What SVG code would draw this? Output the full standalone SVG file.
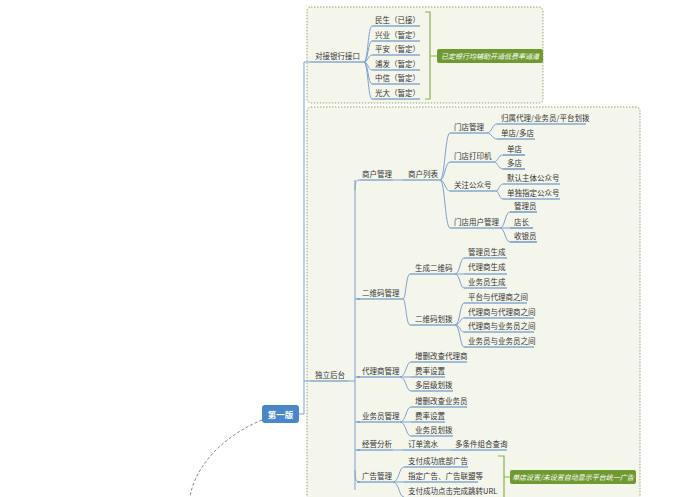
<svg xmlns="http://www.w3.org/2000/svg" width="700" height="497" viewBox="0 0 700 497">
<style>
text{font-family:"Noto Sans CJK SC","Liberation Sans",sans-serif;font-size:7.5px;fill:#333}
.u{stroke:#4f81bd;stroke-width:1.2}
.c{fill:none;stroke:#7f9fcf;stroke-width:1}
.box{fill:#f4f6ec;stroke:#9aa36a;stroke-dasharray:1.5 1.5}
.br{fill:none;stroke:#8ab04a;stroke-width:1.2}
.call{fill:#6f9a32}
.ct{fill:#fff;font-style:italic;font-size:7px}
</style>
<rect width="700" height="497" fill="#fff"/>
<rect class="box" x="307" y="7" width="236" height="96" rx="4"/>
<rect class="box" x="307" y="107" width="333" height="400" rx="4"/>
<g id="connectors">
<path class="c" d="M299 414 H304 V62 H310 M304 381 H310"/>
<path class="c" d="M364 62 C368 62 368 26 372 26 M364 62 C368 62 368 41 372 41 M364 62 C368 62 368 55 372 55 M364 62 C368 62 368 70 372 70 M364 62 C368 62 368 84 372 84 M364 62 C368 62 368 99 372 99"/>
<path class="br" d="M425 12 H430 V99 H425 M430 56 H437"/>
<path class="c" d="M348 381 H355 M355 180 V490 M355 190 C355 180 357 180 360 180 M355 299 H360 M355 377 H360 M355 422 H360 M355 450 H360 M355 470 C355 482 357 482 360 482"/>
<path class="c" d="M393 180 H403 M440 180 C445 180 445 133 450 133 M440 180 C445 180 445 162 450 162 M440 180 C445 180 445 191 450 191 M440 180 C445 180 445 228 450 228"/>
<path class="c" d="M487 133 C492 133 492 124 497 124 M487 133 C492 133 492 139 497 139 M494 162 C498 162 498 155 503 155 M494 162 C498 162 498 169 503 169 M496 191 C499 191 499 184 503 184 M496 191 C499 191 499 199 503 199 M500 228 C505 228 505 212 510 212 M500 228 H510 M500 228 C505 228 505 242 510 242"/>
<path class="c" d="M403 299 C406 299 406 274 410 274 M403 299 C406 299 406 325 410 325 M455 274 C460 274 460 258 464 258 M455 274 H464 M455 274 C460 274 460 288 464 288 M455 325 C460 325 460 303 464 303 M455 325 C460 325 460 318 464 318 M455 325 C460 325 460 332 464 332 M455 325 C460 325 460 347 464 347"/>
<path class="c" d="M400 377 C406 377 406 362 411 362 M400 377 H411 M400 377 C406 377 406 391 411 391 M400 422 C406 422 406 407 411 407 M400 422 H411 M400 422 C406 422 406 436 411 436"/>
<path class="c" d="M393 450 H403 M440 450 H451"/>
<path class="c" d="M393 482 C399 482 399 467 404 467 M393 482 H404 M393 482 C399 482 399 497 404 497"/>
<path class="br" d="M498 456 H504 V497 M504 477 H510"/>
<path fill="none" stroke="#888" stroke-dasharray="3 2" d="M262 420 C225 435 195 465 190 497"/>
</g>
<g id="root"><rect x="262" y="405" width="37" height="18" rx="3" fill="#4a86c8"/><text x="280.5" y="417.5" text-anchor="middle" style="fill:#fff;font-size:8.5px;font-weight:bold">第一版</text></g>
<g id="bank"><text x="315" y="59">对接银行接口</text><line class="u" x1="310" y1="62" x2="364" y2="62"/></g>
<g id="banks">
<text x="375" y="23">民生（已接）</text><line class="u" x1="372" y1="26" x2="420" y2="26"/>
<text x="375" y="38">兴业（暂定）</text><line class="u" x1="372" y1="41" x2="420" y2="41"/>
<text x="375" y="52">平安（暂定）</text><line class="u" x1="372" y1="55" x2="420" y2="55"/>
<text x="375" y="67">浦发（暂定）</text><line class="u" x1="372" y1="70" x2="420" y2="70"/>
<text x="375" y="81">中信（暂定）</text><line class="u" x1="372" y1="84" x2="420" y2="84"/>
<text x="375" y="96">光大（暂定）</text><line class="u" x1="372" y1="99" x2="420" y2="99"/>
</g>
<g id="note1"><rect class="call" x="437" y="49" width="106" height="14" rx="2"/><text class="ct" x="490" y="59" text-anchor="middle">已定银行均辅助开通低费率通道</text></g>
<g id="backend"><text x="315" y="378">独立后台</text><line class="u" x1="310" y1="381" x2="348" y2="381"/></g>
<g id="merchant">
<text x="362" y="177">商户管理</text><line class="u" x1="360" y1="180" x2="393" y2="180"/>
<text x="408" y="177">商户列表</text><line class="u" x1="403" y1="180" x2="440" y2="180"/>
<text x="454" y="130">门店管理</text><line class="u" x1="450" y1="133" x2="487" y2="133"/>
<text x="501" y="121">归属代理/业务员/平台划拨</text><line class="u" x1="497" y1="124" x2="586" y2="124"/>
<text x="501" y="136">单店/多店</text><line class="u" x1="497" y1="139" x2="535" y2="139"/>
<text x="454" y="159">门店打印机</text><line class="u" x1="450" y1="162" x2="494" y2="162"/>
<text x="507" y="152">单店</text><line class="u" x1="503" y1="155" x2="525" y2="155"/>
<text x="507" y="166">多店</text><line class="u" x1="503" y1="169" x2="525" y2="169"/>
<text x="454" y="188">关注公众号</text><line class="u" x1="450" y1="191" x2="496" y2="191"/>
<text x="507" y="181">默认主体公众号</text><line class="u" x1="503" y1="184" x2="560" y2="184"/>
<text x="507" y="196">单独指定公众号</text><line class="u" x1="503" y1="199" x2="560" y2="199"/>
<text x="454" y="225">门店用户管理</text><line class="u" x1="450" y1="228" x2="500" y2="228"/>
<text x="514" y="209">管理员</text><line class="u" x1="510" y1="212" x2="537" y2="212"/>
<text x="514" y="225">店长</text><line class="u" x1="510" y1="228" x2="533" y2="228"/>
<text x="514" y="239">收银员</text><line class="u" x1="510" y1="242" x2="537" y2="242"/>
</g>
<g id="qr">
<text x="362" y="296">二维码管理</text><line class="u" x1="357" y1="299" x2="403" y2="299"/>
<text x="415" y="271">生成二维码</text><line class="u" x1="410" y1="274" x2="455" y2="274"/>
<text x="468" y="255">管理员生成</text><line class="u" x1="464" y1="258" x2="507" y2="258"/>
<text x="468" y="270">代理商生成</text><line class="u" x1="464" y1="274" x2="507" y2="274"/>
<text x="468" y="285">业务员生成</text><line class="u" x1="464" y1="288" x2="507" y2="288"/>
<text x="415" y="322">二维码划拨</text><line class="u" x1="410" y1="325" x2="455" y2="325"/>
<text x="468" y="300">平台与代理商之间</text><line class="u" x1="464" y1="303" x2="527" y2="303"/>
<text x="468" y="315">代理商与代理商之间</text><line class="u" x1="464" y1="318" x2="534" y2="318"/>
<text x="468" y="329">代理商与业务员之间</text><line class="u" x1="464" y1="332" x2="534" y2="332"/>
<text x="468" y="344">业务员与业务员之间</text><line class="u" x1="464" y1="347" x2="534" y2="347"/>
</g>
<g id="agent">
<text x="362" y="374">代理商管理</text><line class="u" x1="357" y1="377" x2="400" y2="377"/>
<text x="415" y="359">增删改查代理商</text><line class="u" x1="411" y1="362" x2="467" y2="362"/>
<text x="415" y="374">费率设置</text><line class="u" x1="411" y1="377" x2="445" y2="377"/>
<text x="415" y="388">多层级划拨</text><line class="u" x1="411" y1="391" x2="453" y2="391"/>
</g>
<g id="sales">
<text x="362" y="419">业务员管理</text><line class="u" x1="357" y1="422" x2="400" y2="422"/>
<text x="415" y="404">增删改查业务员</text><line class="u" x1="411" y1="407" x2="467" y2="407"/>
<text x="415" y="419">费率设置</text><line class="u" x1="411" y1="422" x2="445" y2="422"/>
<text x="415" y="433">业务员划拨</text><line class="u" x1="411" y1="436" x2="453" y2="436"/>
</g>
<g id="analysis">
<text x="362" y="447">经营分析</text><line class="u" x1="357" y1="450" x2="393" y2="450"/>
<text x="408" y="447">订单流水</text><line class="u" x1="403" y1="450" x2="440" y2="450"/>
<text x="455" y="447">多条件组合查询</text><line class="u" x1="451" y1="450" x2="507" y2="450"/>
</g>
<g id="ads">
<text x="362" y="479">广告管理</text><line class="u" x1="357" y1="482" x2="393" y2="482"/>
<text x="408" y="464">支付成功底部广告</text><line class="u" x1="404" y1="467" x2="468" y2="467"/>
<text x="408" y="479">指定广告、广告联盟等</text><line class="u" x1="404" y1="482" x2="478" y2="482"/>
<text x="408" y="494">支付成功点击完成跳转URL</text>
</g>
<g id="note2"><rect class="call" x="510" y="470" width="126" height="14" rx="2"/><text class="ct" x="573" y="480" text-anchor="middle">单店设置/未设置自动显示平台统一广告</text></g>
</svg>
